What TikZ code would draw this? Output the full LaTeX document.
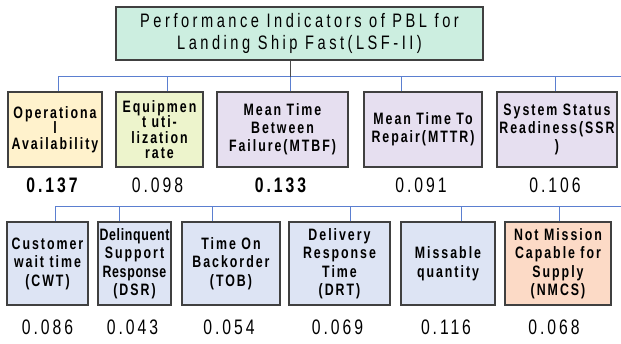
\documentclass[tikz,border=0pt]{standalone}
\usepackage{fontspec}
\setmainfont{Liberation Sans}[FakeStretch=0.75,LetterSpace=12]
\newfontfamily\headfont{Liberation Sans}[FakeStretch=0.75,LetterSpace=18]
\newfontfamily\numfont{Liberation Sans}[FakeStretch=0.75,LetterSpace=14]
\newfontfamily\tightfont{Liberation Sans}[FakeStretch=0.75,LetterSpace=4]
\usetikzlibrary{positioning}
\definecolor{topfill}{HTML}{CCEEE0}
\definecolor{oafill}{HTML}{FFF2CC}
\definecolor{eufill}{HTML}{EDF4CC}
\definecolor{lavfill}{HTML}{E6DFF0}
\definecolor{bluefill}{HTML}{DDE4F4}
\definecolor{peachfill}{HTML}{FCDAC6}
\definecolor{busline}{HTML}{5B7FD0}
\tikzset{
        base/.style={draw=black!75, line width=1.3pt, align=center, inner sep=1pt},
        head/.style={base, fill=topfill, font=\headfont\fontsize{19.5}{22}\selectfont},
        ind/.style={base, font=\bfseries\fontsize{16.5}{18}\selectfont},
        packed/.style={font=\bfseries\fontsize{16.5}{15.5}\selectfont},
        row1/.style={ind, minimum height=75pt},
        row2/.style={ind, fill=bluefill, minimum height=83pt, font=\bfseries\fontsize{16.5}{18.5}\selectfont},
        val/.style={font=\numfont\fontsize{21}{21}\selectfont},
        bval/.style={val, font=\numfont\bfseries\fontsize{21}{21}\selectfont},
        link/.style={busline, line width=1pt},
 }
\begin{document}
\begin{tikzpicture}[x=1pt, y=-1pt]
    \useasboundingbox (0,0) rectangle (621,344);

    \node[head, minimum width=367pt, minimum height=53pt] (top) at (299.5,33.5)
         {Performance Indicators of PBL for\\Landing Ship Fast(LSF-II)};

    % first row
    \node[row1, packed, fill=oafill, minimum width=94pt] (oa) at (55,129.5)
         {Operationa\\l\\Availability};
    \node[row1, packed, fill=eufill, minimum width=87pt] (eur) at (159.5,129.5)
         {Equipmen\\t uti-\\lization\\rate};
    \node[row1, fill=lavfill, minimum width=131pt] (mtbf) at (282.5,129.5)
         {Mean Time\\Between\\Failure(MTBF)};
    \node[row1, fill=lavfill, minimum width=118pt] (mttr) at (423,129.5)
         {Mean Time To\\Repair(MTTR)};
    \node[row1, fill=lavfill, minimum width=120pt] (ssr) at (557,129.5)
         {System Status\\Readiness(SSR\\)};

    \node[bval] (voa) at ([xshift=-3pt,yshift=-18pt]oa.south) {0.137};
    \node[val] (veur) at ([xshift=-2pt,yshift=-18pt]eur.south) {0.098};
    \node[bval] (vmtbf) at ([xshift=-2pt,yshift=-18pt]mtbf.south) {0.133};
    \node[val] (vmttr) at ([xshift=-2pt,yshift=-18pt]mttr.south) {0.091};
    \node[val] (vssr) at ([xshift=-2pt,yshift=-18pt]ssr.south) {0.106};

    % second row
    \node[row2, minimum width=81pt] (cwt) at (47.5,263.5)
         {Customer\\wait time\\(CWT)};
    \node[row2, minimum width=73pt] (dsr) at (134.5,263.5)
         {\tightfont Delinquent\\Support\\\tightfont Response\\(DSR)};
    \node[row2, minimum width=98pt] (tob) at (231,263.5)
         {Time On\\Backorder\\(TOB)};
    \node[row2, minimum width=101pt] (drt) at (339.5,263.5)
         {Delivery\\Response\\Time\\(DRT)};
    \node[row2, minimum width=94pt] (mq) at (448,263.5)
         {Missable\\quantity};
    \node[row2, fill=peachfill, minimum width=106pt] (nmcs) at (558,263.5)
         {Not Mission\\Capable for\\Supply\\(NMCS)};

    \node[val] (vcwt) at ([yshift=-22pt]cwt.south) {0.086};
    \node[val] (vdsr) at ([xshift=-2pt,yshift=-22pt]dsr.south) {0.043};
    \node[val] (vtob) at ([xshift=-2pt,yshift=-22pt]tob.south) {0.054};
    \node[val] (vdrt) at ([xshift=-2pt,yshift=-22pt]drt.south) {0.069};
    \node[val] (vmq) at ([xshift=-2pt,yshift=-22pt]mq.south) {0.116};
    \node[val] (vnmcs) at ([xshift=-4pt,yshift=-22pt]nmcs.south) {0.068};

    % buses
    \coordinate (busA) at (58,77);
    \coordinate (busAend) at (621,77);
    \coordinate (busB) at (55,207);
    \coordinate (busBend) at (621,207);

    \draw[link] (busA) -- (busAend);
    \draw[link] (busB) -- (busBend);
    \draw[black!70, line width=1.2pt] ([xshift=-9pt]top.south) -- ([xshift=-9pt]top.south |- busA);

    \draw[link] ([xshift=3pt]oa.north) -- ([xshift=3pt]oa.north |- busA);
    \draw[link] ([xshift=7.5pt]eur.north) -- ([xshift=7.5pt]eur.north |- busA);
    \draw[link] ([xshift=8pt]mtbf.north) -- ([xshift=8pt]mtbf.north |- busA);
    \draw[link] ([xshift=-22pt]mttr.north) -- ([xshift=-22pt]mttr.north |- busA);
    \draw[link] ([xshift=-1.5pt]ssr.north) -- ([xshift=-1.5pt]ssr.north |- busA);

    \draw[link] ([xshift=7.5pt]cwt.north) -- ([xshift=7.5pt]cwt.north |- busB);
    \draw[link] ([xshift=-15.5pt]dsr.north) -- ([xshift=-15.5pt]dsr.north |- busB);
    \draw[link] ([xshift=-19pt]tob.north) -- ([xshift=-19pt]tob.north |- busB);
    \draw[link] ([xshift=10.5pt]drt.north) -- ([xshift=10.5pt]drt.north |- busB);
    \draw[link] ([xshift=13pt]mq.north) -- ([xshift=13pt]mq.north |- busB);
    \draw[link] ([xshift=1pt]nmcs.north) -- ([xshift=1pt]nmcs.north |- busB);
\end{tikzpicture}
\end{document}
